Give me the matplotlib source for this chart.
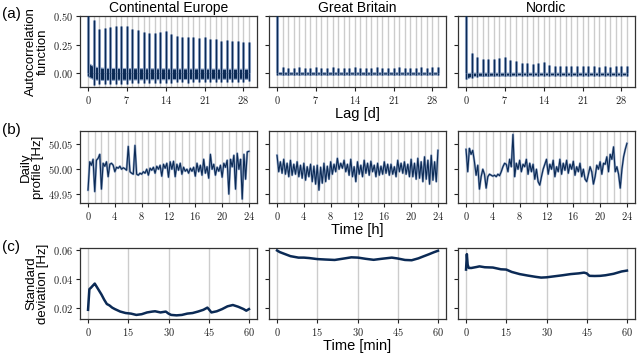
import matplotlib
matplotlib.use('Agg')
import matplotlib.pyplot as plt
from matplotlib.ticker import FuncFormatter

plt.rcParams['font.family'] = ['Liberation Sans', 'DejaVu Sans']
plt.rcParams['mathtext.fontset'] = 'cm'

regions = ['Continental Europe', 'Great Britain', 'Nordic']

# (a) autocorrelation, one value per day of lag
lag_days = list(range(30))
acf_peak = {
    'Continental Europe': [1.0, 0.468, 0.385, 0.394, 0.40, 0.41, 0.415, 0.415, 0.385, 0.374,
                           0.356, 0.35, 0.35, 0.36, 0.368, 0.344, 0.326, 0.32, 0.315, 0.315,
                           0.31, 0.32, 0.297, 0.297, 0.28, 0.29, 0.285, 0.28, 0.276, 0.268],
    'Great Britain': [1.0, 0.05, 0.045, 0.045, 0.05, 0.045, 0.045, 0.05, 0.045, 0.045,
                      0.05, 0.045, 0.045, 0.045, 0.05, 0.045, 0.045, 0.045, 0.05, 0.045,
                      0.045, 0.045, 0.05, 0.045, 0.045, 0.045, 0.05, 0.045, 0.05, 0.05],
    'Nordic': [1.0, 0.174, 0.138, 0.124, 0.12, 0.12, 0.13, 0.144, 0.115, 0.106,
               0.085, 0.085, 0.08, 0.085, 0.10, 0.07, 0.065, 0.065, 0.06, 0.06,
               0.065, 0.06, 0.06, 0.06, 0.055, 0.06, 0.055, 0.06, 0.06, 0.06],
}
acf_trough = {
    'Continental Europe': [-0.03, -0.105, -0.10, -0.10, -0.095, -0.095, -0.10, -0.095, -0.09, -0.09,
                           -0.09, -0.085, -0.09, -0.085, -0.085, -0.085, -0.08, -0.08, -0.085, -0.08,
                           -0.08, -0.08, -0.075, -0.08, -0.075, -0.075, -0.08, -0.075, -0.075, -0.07],
    'Great Britain': [-0.02, -0.02, -0.02, -0.02, -0.02, -0.02, -0.02, -0.02, -0.02, -0.02,
                      -0.02, -0.02, -0.02, -0.02, -0.02, -0.02, -0.02, -0.02, -0.02, -0.02,
                      -0.02, -0.02, -0.02, -0.02, -0.02, -0.02, -0.02, -0.02, -0.02, -0.02],
    'Nordic': [-0.055, -0.04, -0.035, -0.03, -0.03, -0.03, -0.03, -0.03, -0.03, -0.03,
               -0.03, -0.03, -0.03, -0.03, -0.03, -0.03, -0.03, -0.03, -0.03, -0.03,
               -0.03, -0.03, -0.03, -0.03, -0.03, -0.03, -0.03, -0.03, -0.03, -0.03],
}
acf_band_lo = {
    'Continental Europe': [-0.03, -0.055, -0.06, -0.06, -0.06, -0.058, -0.058, -0.058, -0.056, -0.056,
                           -0.055, -0.055, -0.054, -0.054, -0.054, -0.053, -0.053, -0.052, -0.052, -0.052,
                           -0.051, -0.051, -0.05, -0.05, -0.05, -0.05, -0.05, -0.05, -0.05, -0.05],
    'Great Britain': [-0.012, -0.014, -0.014, -0.013, -0.014, -0.013, -0.014, -0.013, -0.013, -0.014,
                      -0.013, -0.013, -0.014, -0.013, -0.013, -0.013, -0.014, -0.013, -0.013, -0.013,
                      -0.013, -0.014, -0.013, -0.013, -0.013, -0.013, -0.013, -0.013, -0.013, -0.013],
    'Nordic': [-0.05, -0.03, -0.025, -0.024, -0.024, -0.022, -0.022, -0.022, -0.022, -0.02,
               -0.02, -0.02, -0.02, -0.02, -0.02, -0.02, -0.02, -0.02, -0.02, -0.02,
               -0.02, -0.02, -0.02, -0.02, -0.02, -0.02, -0.02, -0.02, -0.02, -0.02],
}
acf_band_hi = {
    'Continental Europe': [0.09, 0.06, 0.05, 0.045, 0.045, 0.045, 0.045, 0.044, 0.043, 0.043,
                           0.042, 0.042, 0.041, 0.041, 0.041, 0.04, 0.04, 0.04, 0.04, 0.04,
                           0.04, 0.039, 0.039, 0.039, 0.038, 0.038, 0.038, 0.038, 0.038, 0.038],
    'Great Britain': [0.01, 0.008, 0.008, 0.007, 0.008, 0.007, 0.008, 0.007, 0.008, 0.007,
                      0.008, 0.007, 0.007, 0.008, 0.007, 0.007, 0.008, 0.007, 0.007, 0.007,
                      0.008, 0.007, 0.007, 0.007, 0.007, 0.007, 0.007, 0.007, 0.007, 0.008],
    'Nordic': [0.0, 0.004, 0.004, 0.004, 0.004, 0.004, 0.004, 0.004, 0.004, 0.004,
               0.004, 0.004, 0.004, 0.004, 0.004, 0.004, 0.004, 0.004, 0.004, 0.004,
               0.004, 0.004, 0.004, 0.004, 0.004, 0.004, 0.004, 0.004, 0.004, 0.004],
}

# (b) daily profile, quarter-hour steps from 0 h to 24 h
hours = [i / 4 for i in range(97)]
profile = {
    'Continental Europe': [
        49.958, 50.015, 50.008, 50.020, 49.955, 50.018, 50.022, 50.030,
        49.960, 50.012, 50.006, 50.015, 49.985, 50.010, 50.012, 50.008,
        49.995, 50.004, 50.002, 50.006, 50.000, 50.003, 50.001, 49.998,
        50.046, 49.995, 49.992, 49.990, 50.048, 49.990, 49.988, 49.992,
        49.990, 49.995, 49.992, 50.000, 49.988, 50.002, 49.998, 50.004,
        49.992, 50.006, 50.000, 50.008, 49.986, 50.010, 50.002, 50.012,
        49.984, 50.015, 50.000, 50.016, 49.985, 50.010, 49.998, 50.012,
        49.990, 50.004, 49.996, 50.000, 49.992, 50.002, 49.996, 50.004,
        49.986, 50.012, 49.995, 50.008, 49.988, 50.020, 49.992, 50.005,
        49.982, 50.030, 50.000, 50.010, 49.988, 50.004, 49.996, 50.008,
        49.984, 50.012, 50.004, 50.018, 49.950, 50.020, 50.005, 50.028,
        49.960, 50.032, 50.000, 50.020, 49.940, 50.030, 49.980, 50.035,
        50.036],
    'Great Britain': [
        50.028, 49.995, 50.015, 49.992, 50.020, 49.990, 50.012, 49.985,
        50.018, 49.988, 50.010, 49.990, 50.015, 49.985, 50.008, 49.982,
        50.012, 49.978, 50.005, 49.985, 50.010, 49.975, 50.006, 49.970,
        50.008, 49.958, 50.004, 49.972, 50.012, 49.975, 50.006, 49.980,
        50.015, 49.990, 50.010, 49.995, 50.022, 50.000, 50.012, 50.002,
        50.018, 49.995, 50.010, 49.988, 50.020, 49.985, 50.005, 49.975,
        50.015, 49.990, 50.008, 49.985, 50.018, 49.992, 50.012, 49.988,
        50.016, 49.995, 50.008, 49.985, 50.012, 49.988, 50.006, 49.990,
        50.015, 49.992, 50.010, 49.988, 50.010, 49.990, 50.005, 49.985,
        50.018, 49.995, 50.012, 49.992, 50.015, 49.990, 50.010, 49.985,
        50.020, 49.985, 50.012, 49.980, 50.022, 49.982, 50.015, 49.975,
        50.025, 49.980, 50.018, 49.970, 50.028, 49.978, 50.015, 49.975,
        50.038],
    'Nordic': [
        50.040, 49.995, 50.042, 50.030, 50.038, 50.015, 49.988, 50.008,
        49.960, 49.985, 50.000, 49.990, 49.962, 49.985, 49.990, 49.988,
        49.986, 49.988, 49.985, 49.990, 49.987, 49.995, 50.005, 50.012,
        50.010, 49.995, 50.020, 50.005, 50.070, 49.985, 50.012, 50.000,
        50.018, 49.995, 50.010, 50.005, 50.020, 49.990, 50.012, 49.995,
        50.010, 49.980, 50.000, 49.975, 49.968, 49.985, 50.000, 50.010,
        50.020, 49.990, 50.010, 50.000, 50.018, 49.985, 50.005, 49.995,
        50.020, 49.990, 50.012, 49.998, 50.018, 49.992, 50.010, 50.000,
        50.016, 49.988, 50.005, 49.995, 50.012, 49.985, 50.000, 49.980,
        49.975, 49.990, 50.005, 49.995, 49.970, 49.985, 50.008, 50.000,
        50.015, 49.990, 50.012, 50.010, 50.025, 49.995, 50.030, 50.020,
        50.045, 49.995, 50.005, 49.990, 49.962, 50.000, 50.025, 50.040,
        50.052],
}

# (c) standard deviation vs. time within the hour
std_min = {
    'Continental Europe': [0, 0.5, 1, 2, 2.5, 3, 4, 5, 6, 7, 8, 9, 10, 12, 14, 16, 18, 20, 22, 24, 25,
                           27, 29, 30, 31, 33, 35, 37, 39, 41, 43, 44.5, 45, 46, 48, 50, 52, 54, 56,
                           58, 59, 60],
    'Great Britain': [0, 1, 3, 5, 8, 10, 12, 15, 18, 21.5, 25, 27.7, 30.2, 33, 36, 39, 42.8, 45,
                      47.7, 50.2, 52.7, 54.5, 56.5, 58.5, 60],
    'Nordic': [0, 0.3, 0.6, 1, 2, 4, 5, 7, 10, 13, 15, 17, 20, 23, 26, 28, 30, 33, 36, 39, 42,
               44, 45, 46, 48, 50, 52, 55, 58, 60],
}
std_val = {
    'Continental Europe': [0.019, 0.0332, 0.034, 0.036, 0.037, 0.0355, 0.0325, 0.0295, 0.026, 0.023,
                           0.022, 0.0205, 0.0195, 0.0178, 0.0168, 0.0164, 0.0155, 0.016, 0.0172,
                           0.0178, 0.018, 0.0172, 0.0178, 0.0164, 0.0155, 0.0152, 0.0155, 0.0164,
                           0.0168, 0.0178, 0.019, 0.0205, 0.0195, 0.0172, 0.018, 0.0195, 0.0214,
                           0.0223, 0.0211, 0.0195, 0.0184, 0.0195],
    'Great Britain': [0.0597, 0.0586, 0.0572, 0.0558, 0.0548, 0.0548, 0.0545, 0.0538, 0.0535,
                      0.0532, 0.0542, 0.055, 0.0548, 0.0540, 0.0533, 0.054, 0.0548, 0.0542,
                      0.0532, 0.053, 0.0543, 0.0556, 0.057, 0.0585, 0.0595],
    'Nordic': [0.0466, 0.0572, 0.050, 0.0477, 0.0477, 0.0484, 0.0488, 0.0482, 0.048, 0.0468, 0.0466,
               0.045, 0.0435, 0.0425, 0.0416, 0.0411, 0.0413, 0.042, 0.0427, 0.0435, 0.044, 0.0445,
               0.044, 0.0423, 0.0422, 0.0423, 0.0427, 0.0437, 0.0453, 0.0459],
}

navy = '#0b2a55'
light = '#8ea3c4'
grey = '#cccccc'

fig = plt.figure(figsize=(6.4, 3.53), dpi=100)
W, H = 640, 353
col_x = [80, 269, 458]
row_y = [(16, 87), (131, 203), (248, 319)]
axes = []
for r, (top, bot) in enumerate(row_y):
    row = []
    for c, x0 in enumerate(col_x):
        ax = fig.add_axes([x0 / W, 1 - bot / H, 177 / W, (bot - top) / H])
        row.append(ax)
    axes.append(row)

cm = FuncFormatter(lambda v, p: r'$%.2f$' % v)
cmi = FuncFormatter(lambda v, p: r'$%d$' % v)

for c, name in enumerate(regions):
    # row a
    ax = axes[0][c]
    for d in lag_days:
        ax.axvline(d, color=grey, lw=1, zorder=0)
    ax.fill_between(lag_days, acf_band_lo[name], acf_band_hi[name], color=navy, lw=0.8,
                    edgecolor=light, zorder=2)
    ax.vlines(lag_days, acf_trough[name], 0, color=light, lw=2.0, zorder=2)
    ax.vlines(lag_days, 0, acf_peak[name], color=light, lw=2.2, zorder=2)
    ax.vlines(lag_days, 0, acf_peak[name], color=navy, lw=0.9, zorder=3)
    ax.vlines(lag_days, acf_trough[name], 0, color=navy, lw=0.8, zorder=3)
    ax.set_ylim(-0.122, 0.5)
    ax.set_xticks([0, 7, 14, 21, 28])
    ax.set_yticks([0, 0.25, 0.5])
    ax.set_title(name, fontsize=10, pad=3)

    # row b
    ax = axes[1][c]
    for h in range(25):
        ax.axvline(h, color=grey, lw=1, zorder=0)
    ax.plot(hours, profile[name], color=light, lw=1.6, zorder=2)
    ax.plot(hours, profile[name], color=navy, lw=0.8, zorder=3)
    ax.set_ylim(49.932, 50.077)
    ax.set_xticks(range(0, 25, 4))
    ax.set_yticks([49.95, 50.0, 50.05])

    # row c
    ax = axes[2][c]
    for m in [0, 15, 30, 45, 60]:
        ax.axvline(m, color=grey, lw=1, zorder=0)
    ax.plot(std_min[name], std_val[name], color=navy, lw=1.8, zorder=3)
    ax.set_ylim(0.0127, 0.0614)
    ax.set_xticks([0, 15, 30, 45, 60])
    ax.set_yticks([0.02, 0.04, 0.06])

for r in range(3):
    for c in range(3):
        ax = axes[r][c]
        ax.xaxis.set_major_formatter(cmi)
        ax.yaxis.set_major_formatter(cm)
        ax.tick_params(labelsize=7.5, length=3, width=0.8, colors='#222222', pad=2)
        for s in ax.spines.values():
            s.set_color('#333333')
            s.set_linewidth(0.9)
        if c > 0:
            ax.tick_params(labelleft=False)

axes[0][1].set_xlabel('Lag [d]', fontsize=10.5, labelpad=1)
axes[1][1].set_xlabel('Time [h]', fontsize=10.5, labelpad=1)
axes[2][1].set_xlabel('Time [min]', fontsize=10.5, labelpad=1)

ylabels = ['Autocorrelation\nfunction', 'Daily\nprofile [Hz]', 'Standard\ndeviation [Hz]']
for r, lab in enumerate(ylabels):
    axes[r][0].set_ylabel(lab, fontsize=9.5, linespacing=0.95, labelpad=3)

for lab, y in zip(['(a)', '(b)', '(c)'], [14, 130, 247]):
    fig.text(2 / W, 1 - y / H, lab, ha='left', va='center', fontsize=11)

fig.savefig('out.png', dpi=100)
